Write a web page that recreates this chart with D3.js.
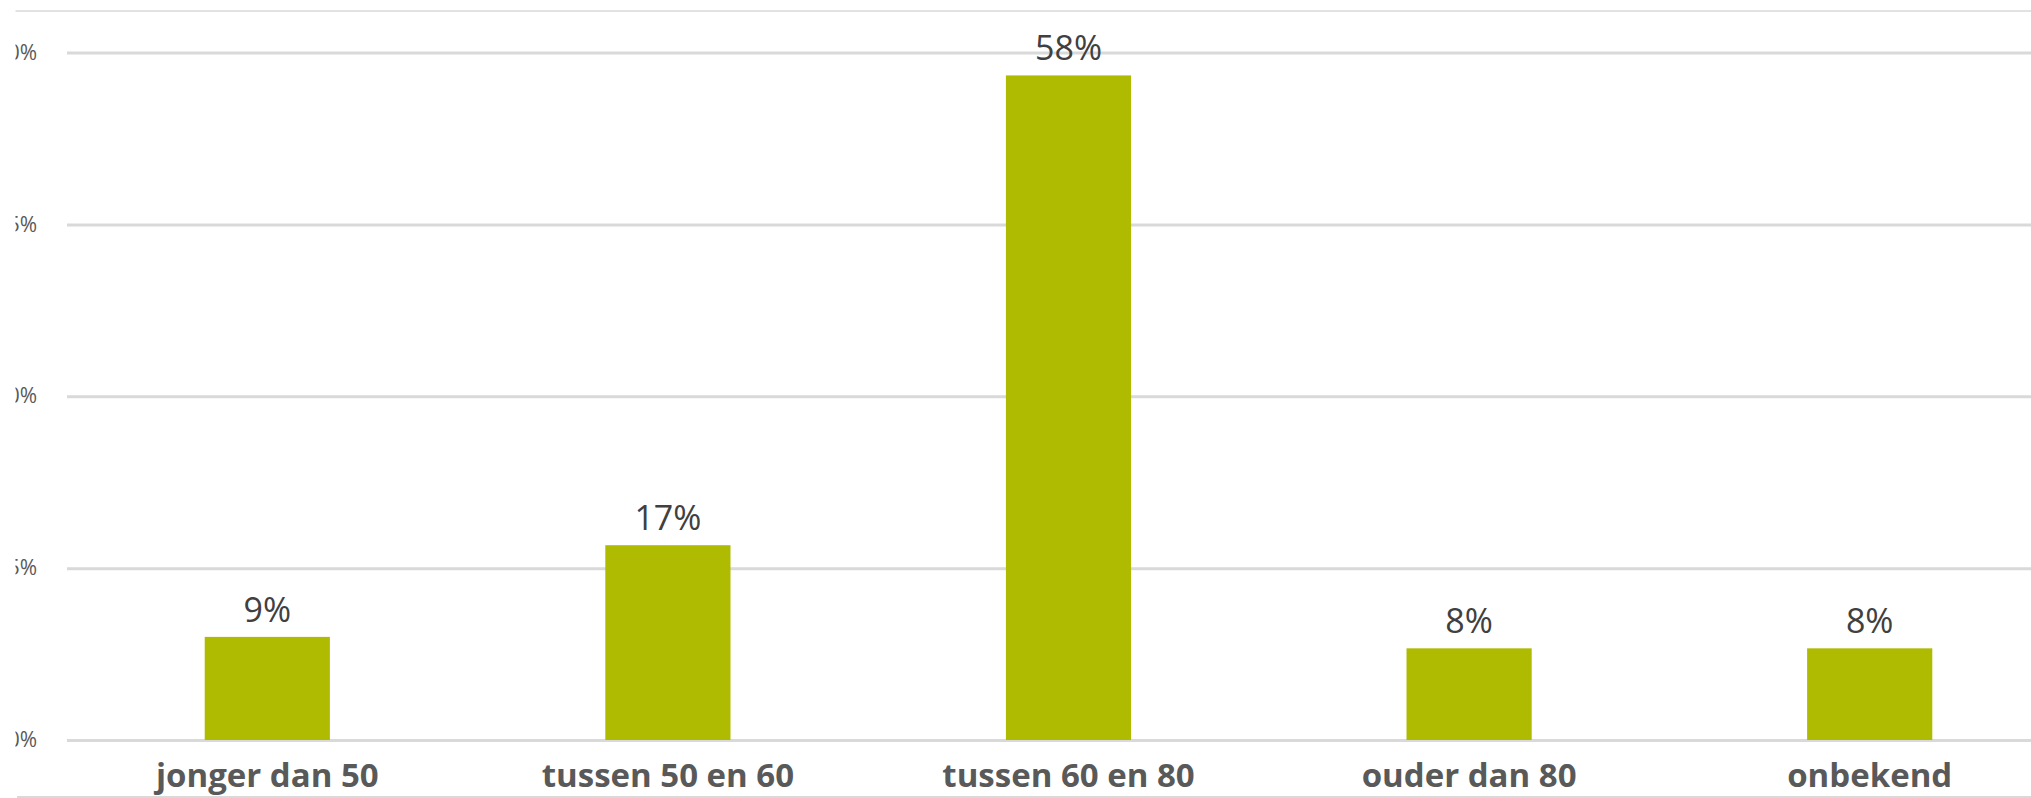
<!DOCTYPE html>
<html>
<head>
<meta charset="utf-8">
<script src="https://cdn.jsdelivr.net/npm/d3@7"></script>
<style>
  html, body { margin: 0; padding: 0; background: #ffffff; overflow: hidden; }
  svg { display: block; }
</style>
</head>
<body>
<svg id="chart" width="2031" height="798"></svg>
<script>
// ---- data ----
const categories = ["jonger dan 50", "tussen 50 en 60", "tussen 60 en 80", "ouder dan 80", "onbekend"];
const values = [0.09, 0.17, 0.58, 0.08, 0.08];
const valueLabels = ["9%", "17%", "58%", "8%", "8%"];
const tickValues = [0, 0.15, 0.30, 0.45, 0.60];
const tickLabels = ["0%", "15%", "30%", "45%", "60%"];

// ---- layout ----
const W = 2031, H = 798;
const svg = d3.select("#chart");

const x = d3.scaleBand()
  .domain(categories)
  .range([67, 2070])
  .paddingInner(0.6875)
  .paddingOuter(0.34375);

const y = d3.scaleLinear()
  .domain([0, 0.6])
  .range([740, 52.5]);

// clip simulating the cropped left edge of the original picture
svg.append("defs").append("clipPath").attr("id", "crop")
  .append("rect").attr("x", 15.5).attr("y", 0).attr("width", W).attr("height", H);

const g = svg.append("g").attr("clip-path", "url(#crop)");

// chart border lines (top and bottom)
g.append("line").attr("x1", 13).attr("x2", W).attr("y1", 11).attr("y2", 11)
  .attr("stroke", "#d9d9d9").attr("stroke-width", 1.5);
g.append("line").attr("x1", 17).attr("x2", W).attr("y1", 797).attr("y2", 797)
  .attr("stroke", "#d9d9d9").attr("stroke-width", 2);

// y axis: gridlines + labels
const yAxis = d3.axisLeft(y)
  .tickValues(tickValues)
  .tickSize(-(2070 - 67))
  .tickPadding(30)
  .tickFormat((d, i) => tickLabels[i]);

const ya = g.append("g").attr("transform", "translate(67,0)").call(yAxis);
ya.select(".domain").remove();
ya.selectAll(".tick line").attr("stroke", "#d9d9d9").attr("stroke-width", 3);
ya.selectAll(".tick text")
  .attr("fill", "#595959")
  .style("font-family", "'Open Sans', 'Liberation Sans', sans-serif")
  .style("font-size", "21px");

// bars
g.selectAll("rect.bar")
  .data(values)
  .join("rect")
  .attr("class", "bar")
  .attr("x", (d, i) => x(categories[i]))
  .attr("width", x.bandwidth())
  .attr("y", d => y(d))
  .attr("height", d => y(0) - y(d))
  .attr("fill", "#afbb00");

// value labels
g.selectAll("text.val")
  .data(values)
  .join("text")
  .attr("class", "val")
  .attr("x", (d, i) => x(categories[i]) + x.bandwidth() / 2)
  .attr("y", d => y(d) - 15)
  .attr("text-anchor", "middle")
  .attr("fill", "#404040")
  .style("font-family", "'Open Sans', 'Liberation Sans', sans-serif")
  .style("font-size", "34px")
  .text((d, i) => valueLabels[i]);

// x axis labels
const xAxis = d3.axisBottom(x).tickSize(0).tickPadding(0);
const xa = g.append("g").attr("transform", "translate(0,740)").call(xAxis);
xa.select(".domain").remove();
xa.selectAll(".tick text")
  .attr("dy", null)
  .attr("y", 47)
  .attr("fill", "#595959")
  .style("font-family", "'Open Sans', 'Liberation Sans', sans-serif")
  .style("font-weight", "bold")
  .style("font-size", "33px");
</script>
</body>
</html>
